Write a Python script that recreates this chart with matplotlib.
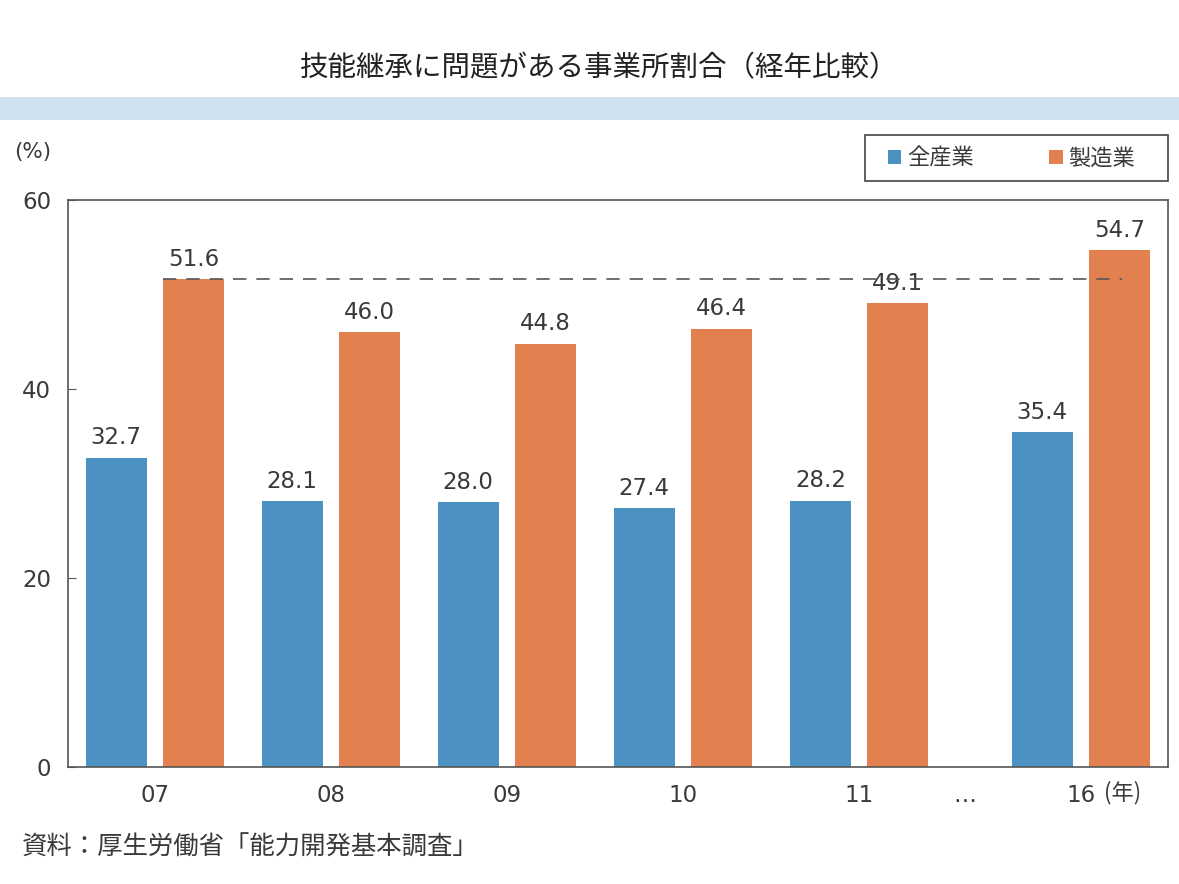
import matplotlib
matplotlib.use("Agg")
import matplotlib.pyplot as plt
from matplotlib.patches import Rectangle
import numpy as np

plt.rcParams['font.family'] = ['Noto Sans CJK JP', 'DejaVu Sans']

years = ["07", "08", "09", "10", "11", "16"]
all_industry = [32.7, 28.1, 28.0, 27.4, 28.2, 35.4]
manufacturing = [51.6, 46.0, 44.8, 46.4, 49.1, 54.7]
series_names = ["全産業", "製造業"]
title = "技能継承に問題がある事業所割合（経年比較）"
source = "資料：厚生労働省「能力開発基本調査」"
yticks = [0, 20, 40, 60]

blue = "#4b91c1"
orange = "#e3804f"
txt = "#3a3a3a"

fig = plt.figure(figsize=(11.79, 8.84), dpi=100)
fig.patch.set_facecolor("white")

# title and band
fig.text(0.5 + 10 / 1179, 1 - 68 / 884, title, ha="center", va="center", fontsize=20.5, color="#222222")
fig.add_artist(Rectangle((0, 1 - 120 / 884), 1, 23 / 884, transform=fig.transFigure,
                         facecolor="#cfe0ee", edgecolor="none"))

ax = fig.add_axes([68 / 1179, 1 - 767 / 884, 1100 / 1179, 567 / 884])

x = np.array([0, 1, 2, 3, 4, 5.26])
w = 0.345
off = 0.22
ax.bar(x - off, all_industry, width=w, color=blue, label=series_names[0], zorder=2)
ax.bar(x + off, manufacturing, width=w, color=orange, label=series_names[1], zorder=2)

for xi, v in zip(x - off, all_industry):
    ax.text(xi, v + 0.9, f"{v:.1f}", ha="center", va="bottom", fontsize=16.5, color=txt, family="DejaVu Sans")
for xi, v in zip(x + off, manufacturing):
    ax.text(xi, v + 0.9, f"{v:.1f}", ha="center", va="bottom", fontsize=16.5, color=txt, family="DejaVu Sans")

# reference dashed line at 2007 manufacturing
ax.plot([x[0] + off - w / 2, x[5] + 0.235], [manufacturing[0]] * 2, ls=(0, (8, 6)),
        color="#555555", lw=1.2, zorder=3)

ax.set_xlim(-0.494, 5.755)
ax.set_ylim(0, 60)
ax.set_yticks(yticks)
ax.set_yticklabels([str(t) for t in yticks], family="DejaVu Sans")
ax.tick_params(axis="y", direction="in", length=6, colors="#555555", labelcolor=txt,
               labelsize=16.5, pad=12)
ax.set_xticks(list(x) + [4.6])
ax.set_xticklabels(years + ["…"], family="DejaVu Sans")
ax.tick_params(axis="x", length=0, labelsize=16.5, labelcolor=txt, pad=12)
for s in ax.spines.values():
    s.set_color("#555555")
    s.set_linewidth(1.2)

fig.text(1104 / 1179, 1 - 793 / 884, "(年)", ha="left", va="center", fontsize=16, color=txt)
fig.text(14 / 1179, 1 - 152 / 884, "(%)", ha="left", va="center", fontsize=15.5, color=txt,
         family="DejaVu Sans")
fig.text(22 / 1179, 1 - 848 / 884, source, ha="left", va="center", fontsize=18.3, color=txt)

# legend box (frame drawn separately)
fig.add_artist(Rectangle((865 / 1179, 1 - 181 / 884), 303 / 1179, 46 / 884,
                         transform=fig.transFigure, facecolor="white",
                         edgecolor="#444444", linewidth=1.2))
leg = fig.legend(loc="center left", bbox_to_anchor=(888 / 1179, 1 - 158 / 884), ncol=2,
                 frameon=False, fontsize=16,
                 handlelength=0.6, handleheight=0.6, handletextpad=0.25, columnspacing=3.4,
                 borderpad=0, borderaxespad=0)
for t in leg.get_texts():
    t.set_color(txt)

fig.savefig("out.png", dpi=100)
